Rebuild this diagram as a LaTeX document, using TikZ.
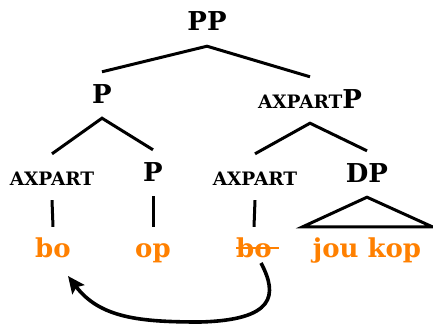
\documentclass[tikz,border=0pt]{standalone}
\usepackage{fontspec}
\setmainfont{DejaVu Serif}
\usetikzlibrary{calc,arrows.meta}
\definecolor{orng}{RGB}{255,128,0}
\newcommand\axlbl[1]{{\fontsize{18.5}{18.5}\selectfont\bfseries #1}}
\begin{document}
\begin{tikzpicture}[x=1pt,y=-1pt,
  cat/.style={font=\fontsize{26}{26}\selectfont\bfseries, inner xsep=0pt, inner ysep=0pt,
    text height=31pt, text depth=15pt, anchor=base},
  term/.style={font=\fontsize{26}{26}\selectfont\bfseries, text=orng, inner xsep=0pt, inner ysep=0pt,
    text height=30pt, text depth=8pt, anchor=base},
  branch/.style={line width=3pt},
  move/.style={line width=3.6pt, -{Stealth[length=17pt,width=15pt,inset=3pt]}}
]
\useasboundingbox (0,0) rectangle (433,326);
% categories
\node[cat] (pp)  at (207,31)  {PP};
\node[cat] (p1)  at (102,103) {P};
\node[cat] (ap)  at (310,108) {\axlbl{AXPART}P};
\node[cat] (ax1) at (52,185)  {\axlbl{AXPART}};
\node[cat] (p2)  at (153,181) {P};
\node[cat] (ax2) at (255,185) {\axlbl{AXPART}};
\node[cat] (dp)  at (367,182) {DP};
% terminals
\node[term] (bo1) at (53,257)  {bo};
\node[term] (op)  at (153,257) {op};
\node[term] (bo3) at (254,257) {bo};
\node[term] (jk)  at (367,257) {jou kop};
% branches
\draw[branch] (p1.north) -- (pp.south) -- (ap.north);
\draw[branch] (ax1.north) -- (p1.south) -- (p2.north);
\draw[branch] (ax2.north) -- (ap.south) -- (dp.north);
\draw[branch] (ax1.south) -- (bo1.north);
\draw[branch] (p2.south) -- (op.north);
\draw[branch] (ax2.south) -- (bo3.north);
\draw[branch] (dp.south) -- ($(jk.north west)+(-10,0)$) -- ($(jk.north east)+(11,0)$) -- cycle;
% strike-through
\draw[orng, line width=2pt] ($(bo3.base west)+(0,-9)$) -- ($(bo3.base east)+(7,-9)$);
% movement arrow
\draw[move] ($(bo3.base)+(7,6)$) .. controls (278,295) and (275,320) .. (200,322)
  .. controls (140,322) and (100,318) .. ($(bo1.base)+(15,19)$);
\end{tikzpicture}
\end{document}
